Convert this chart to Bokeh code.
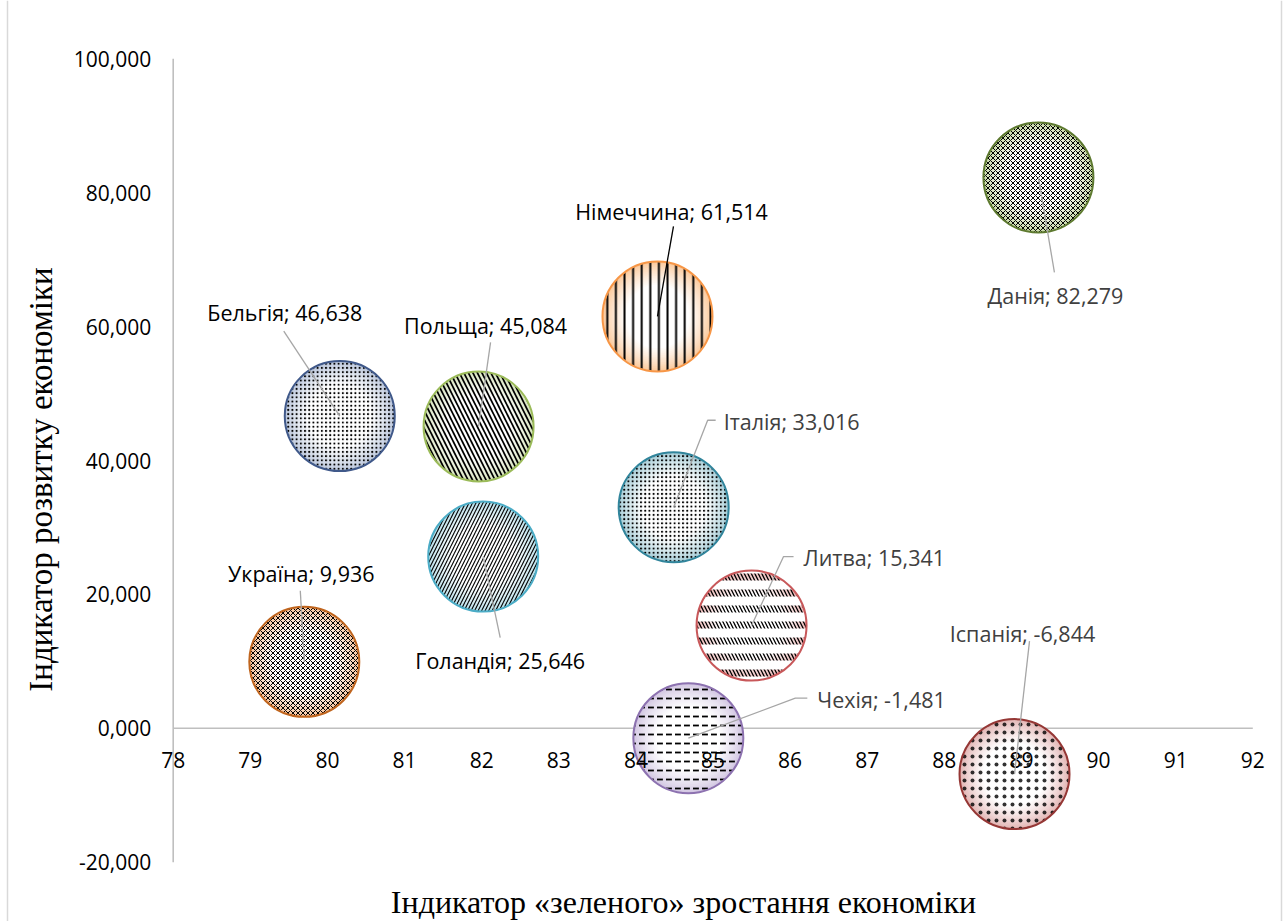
import numpy as np
from bokeh.plotting import figure
from bokeh.models import ColumnDataSource, Range1d
from bokeh.core.properties import value
from bokeh.embed import file_html
from bokeh.resources import INLINE

# ---- data -------------------------------------------------------------
countries = ["Україна", "Бельгія", "Польща", "Голандія", "Німеччина",
             "Італія", "Литва", "Чехія", "Данія", "Іспанія"]
green_growth = [79.70, 80.16, 81.96, 82.02, 84.28, 84.49, 85.50, 84.68, 89.22, 88.91]
development = [9.936, 46.638, 45.084, 25.646, 61.514, 33.016, 15.341, -1.481, 82.279, -6.844]

x_ticks = [78, 79, 80, 81, 82, 83, 84, 85, 86, 87, 88, 89, 90, 91, 92]
y_ticks = [-20, 0, 20, 40, 60, 80, 100]
y_tick_labels = ["-20,000", "0,000", "20,000", "40,000", "60,000", "80,000", "100,000"]

x_title = "Індикатор «зеленого» зростання економіки"
y_title = "Індикатор розвитку економіки"

# ---- styles per bubble ------------------------------------------------
outline_colors = ["#C0651E", "#40598A", "#9BBB59", "#4BACC6", "#F79646",
                  "#31859C", "#C8585A", "#8D72B0", "#5E7A30", "#953735"]
edge_tints = ["#F6C29B", "#BCC8DD", "#D7E4BD", "#B7DEE8", "#FBC99B",
              "#A9CFD9", "#EBB5B4", "#D2C6E2", "#C8D8A8", "#E2B4B3"]
# hatch layers per bubble: (pattern, scale, weight, colour, alpha);
# white layers cut gaps into the black ones
hatch_layers = [
    [("diagonal_cross", 5.0, 1.0, "#000000", 1.0)],
    [("dot", 4.2, 2.0, "#000000", 1.0)],
    [("left_diagonal_line", 9.0, 1.7, "#000000", 1.0)],
    [("right_diagonal_line", 7.0, 1.1, "#000000", 1.0)],
    [("vertical_line", 8.6, 2.0, "#000000", 1.0)],
    [("dot", 4.2, 2.0, "#000000", 1.0)],
    [("left_diagonal_line", 7.0, 1.3, "#000000", 1.0),
     ("horizontal_line", 16.0, 9.0, "#FFFFFF", 1.0)],
    [("horizontal_dash", 9.0, 1.8, "#000000", 1.0)],
    [("diagonal_cross", 5.0, 1.0, "#000000", 1.0)],
    [("dot", 8.0, 0.3, "#000000", 0.8)],
]
bubble_px = 110

# label placement (screen px relative to bubble centre, y downwards)
label_style = {
    "Україна":   dict(off=(-3, -88), align="center", color="#000000",
                      leader=[(-4, -71)]),
    "Бельгія":   dict(off=(-55, -104), align="center", color="#000000",
                      leader=[(-56, -85)]),
    "Польща":    dict(off=(7, -101), align="center", color="#000000",
                      leader=[(12, -84)]),
    "Голандія":  dict(off=(17, 104), align="center", color="#000000",
                      leader=[(17, 81)]),
    "Німеччина": dict(off=(14, -105), align="center", color="#000000",
                      leader=[(16, -90)], leader_color="#000000"),
    "Італія":    dict(off=(50, -86), align="left", color="#404040",
                      leader=[(34, -87), (42, -87)]),
    "Литва":     dict(off=(52, -68), align="left", color="#404040",
                      leader=[(32, -69), (42, -69)]),
    "Чехія":     dict(off=(129, -39), align="left", color="#404040",
                      leader=[(107, -40), (119, -40)]),
    "Данія":     dict(off=(17, 118), align="center", color="#404040",
                      leader=[(16, 95)]),
    "Іспанія":   dict(off=(8, -141), align="center", color="#404040",
                      leader=[(15, -133)]),
}

# ---- canvas geometry --------------------------------------------------
W, H = 1285, 921
X_LO_PX, X_HI_PX = 172.7, 1252.3      # pixel columns of x = 78 and x = 92
Y_HI_PX, Y_LO_PX = 58.3, 861.7        # pixel rows of y = 100 and y = -20
kx = (X_HI_PX - X_LO_PX) / (x_ticks[-1] - x_ticks[0])
ky = (Y_LO_PX - Y_HI_PX) / (y_ticks[-1] - y_ticks[0])

x_range = Range1d(x_ticks[0] - X_LO_PX / kx, x_ticks[0] + (W - X_LO_PX) / kx)
y_range = Range1d(y_ticks[-1] - (H - Y_HI_PX) / ky, y_ticks[-1] + Y_HI_PX / ky)


def px_x(px):
    return x_ticks[0] + (px - X_LO_PX) / kx


def px_y(py):
    return y_ticks[-1] - (py - Y_HI_PX) / ky


def mix(c1, c2, t):
    a = np.array([int(c1[i:i + 2], 16) for i in (1, 3, 5)], float)
    b = np.array([int(c2[i:i + 2], 16) for i in (1, 3, 5)], float)
    m = a + (b - a) * t
    return "#%02x%02x%02x" % tuple(int(round(v)) for v in m)


p = figure(width=W, height=H, x_range=x_range, y_range=y_range,
           x_axis_type=None, y_axis_type=None, min_border=0,
           toolbar_location=None, output_backend="svg")
p.grid.visible = False
p.outline_line_color = None
p.background_fill_color = "white"
p.border_fill_color = "white"

# chart area border
p.segment(x0=[px_x(7), px_x(1281)], y0=[px_y(0), px_y(0)],
          x1=[px_x(7), px_x(1281)], y1=[px_y(H), px_y(H)],
          line_color="#D9D9D9", line_width=1.5)

# axis lines
axis_color = "#BFBFBF"
p.segment(x0=[x_ticks[0]], y0=[y_ticks[0]], x1=[x_ticks[0]], y1=[y_ticks[-1]],
          line_color=axis_color, line_width=1.6)
p.segment(x0=[x_ticks[0]], y0=[0], x1=[x_ticks[-1]], y1=[0],
          line_color=axis_color, line_width=1.6)

# bubbles: radial tint fading to white towards the centre
n_layers = 14
for i in range(n_layers):
    t = i / (n_layers - 1)
    size = bubble_px * (1 - 0.42 * t)
    fills = [mix(c, "#FFFFFF", t ** 0.8) for c in edge_tints]
    s = ColumnDataSource(dict(x=green_growth, y=development, fill=fills))
    p.scatter("x", "y", source=s, size=size, fill_color="fill",
              line_color=None, marker="circle")

# hatch fills, one renderer per bubble and layer
for gx, dv, layers in zip(green_growth, development, hatch_layers):
    for pat, scale, weight, hcol, halpha in layers:
        p.scatter([gx], [dv], size=bubble_px - 1, marker="circle",
                  fill_alpha=0, line_color=None,
                  hatch_pattern=pat, hatch_scale=scale, hatch_weight=weight,
                  hatch_color=hcol, hatch_alpha=halpha)

# outlines
p.scatter(green_growth, development, size=bubble_px, marker="circle",
          fill_alpha=0, line_color=outline_colors, line_width=2)

# tick labels
tick_font = value("Open Sans")
p.text(x=x_ticks, y=[0] * len(x_ticks), text=[str(t) for t in x_ticks],
       y_offset=32, text_align="center", text_baseline="middle",
       text_font=tick_font, text_font_size="21px", text_color="#000000")
p.text(x=[x_ticks[0]] * len(y_ticks), y=y_ticks, text=y_tick_labels,
       x_offset=-22, text_align="right", text_baseline="middle",
       text_font=tick_font, text_font_size="21px", text_color="#000000")

# axis titles
p.text(x=[px_x(683)], y=[px_y(901)], text=[x_title],
       text_align="center", text_baseline="middle",
       text_font=value("Liberation Serif"), text_font_size="32px",
       text_color="#000000")
p.text(x=[px_x(40)], y=[px_y(479)], text=[y_title],
       angle=np.pi / 2, text_align="center", text_baseline="middle",
       text_font=value("Liberation Serif"), text_font_size="33px",
       text_color="#000000")

# leader lines and data labels
for name, gx, dv in zip(countries, green_growth, development):
    st = label_style[name]
    xs = [gx] + [gx + dx / kx for dx, dy in st["leader"]]
    ys = [dv] + [dv - dy / ky for dx, dy in st["leader"]]
    p.line(xs, ys, line_color=st.get("leader_color", "#A6A6A6"), line_width=1.3)
    txt = f"{name}; {dv:.3f}".replace(".", ",")
    p.text(x=[gx], y=[dv], text=[txt], x_offset=st["off"][0], y_offset=st["off"][1],
           text_align=st["align"], text_baseline="middle",
           text_font=tick_font, text_font_size="21.5px", text_color=st["color"])

open("out.html", "w").write(file_html(p, INLINE))
